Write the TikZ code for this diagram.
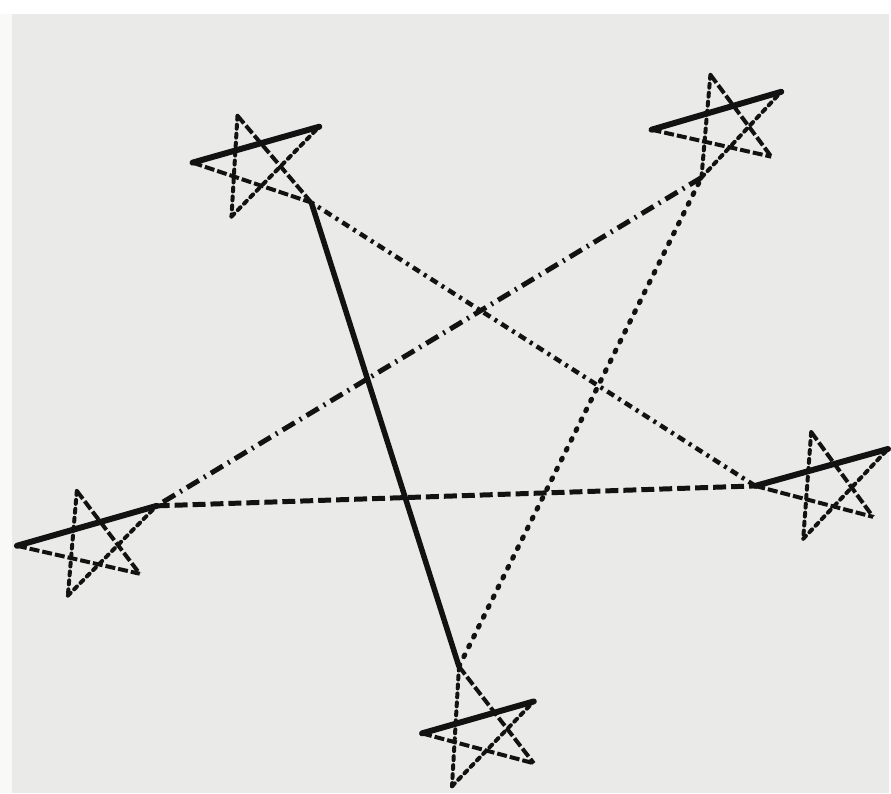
\documentclass[tikz,border=0pt]{standalone}

\definecolor{paper}{RGB}{234,234,232}
\definecolor{ink}{RGB}{18,18,18}

\tikzset{
  bar/.style={ink, line width=6pt, line cap=round},
  thinstroke/.style={ink, line width=4pt, dash pattern=on 10pt off 3pt},
  dotstroke/.style={ink, line width=4pt, line cap=round, dash pattern=on 4pt off 5pt},
  solidline/.style={ink, line width=5.5pt},
  longdash/.style={ink, line width=5pt, dash pattern=on 14pt off 6pt on 2pt off 6pt},
  dashline/.style={ink, line width=5pt, dash pattern=on 13pt off 5pt},
  dashdot/.style={ink, line width=4.5pt, dash pattern=on 8pt off 5pt on 3pt off 5pt},
  dotline/.style={ink, line width=5pt, line cap=round, dash pattern=on 2pt off 9pt}
}

\begin{document}
\begin{tikzpicture}[x=1pt, y=-1pt]
  % scanned paper
  \fill[paper] (0,0) rectangle (891,795);
  \fill[white!70!paper] (0,0) rectangle (12,795);
  \fill[white] (0,0) rectangle (891,14);

  % the five small stars: left, right, top, bottom-left, bottom-right points
  \foreach \s/\lx/\ly/\rx/\ry/\tx/\ty/\blx/\bly/\brx/\bry in {
      tl/193/163/320/127/238/116/232/217/312/203,
      tr/653/130/783/92/712/75/703/178/773/157,
      le/17/547/157/507/77/492/68/597/140/575,
      ri/757/487/890/450/813/433/805/540/875/518,
      bo/423/735/535/703/460/668/453/788/535/765}{
    \coordinate (\s-l) at (\lx,\ly);
    \coordinate (\s-r) at (\rx,\ry);
    \coordinate (\s-t) at (\tx,\ty);
    \coordinate (\s-bl) at (\blx,\bly);
    \coordinate (\s-br) at (\brx,\bry);
    \draw[bar] (\s-l) -- (\s-r);
    \draw[thinstroke] (\s-t) -- (\s-br);
    \draw[dotstroke] (\s-t) -- (\s-bl);
    \draw[dotstroke] (\s-bl) -- (\s-r);
    \draw[thinstroke] (\s-l) -- (\s-br);
  }

  % the big star between them
  \draw[solidline] (tl-br) -- (bo-t);
  \draw[dotline] (bo-t) -- (tr-bl);
  \draw[longdash] (tr-bl) -- (le-r);
  \draw[dashline] (le-r) -- (ri-l);
  \draw[dashdot] (ri-l) -- (tl-br);
\end{tikzpicture}
\end{document}
